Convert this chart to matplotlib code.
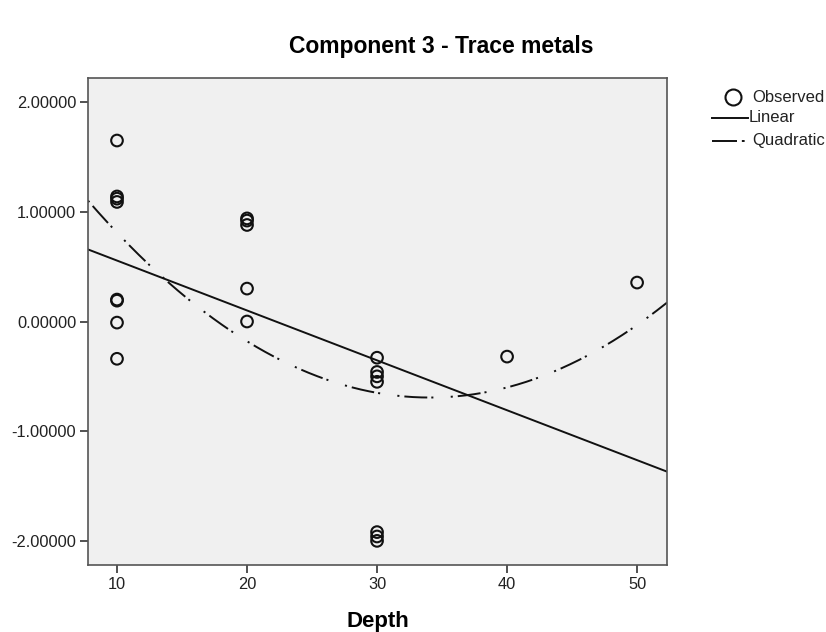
import numpy as np
import matplotlib
matplotlib.use("Agg")
import matplotlib.pyplot as plt
from matplotlib.lines import Line2D

plt.rcParams['font.family'] = ['Liberation Sans', 'DejaVu Sans']
plt.rcParams['lines.scale_dashes'] = False

depth = [10, 10, 10, 10, 10, 10, 10, 10,
         20, 20, 20, 20, 20,
         30, 30, 30, 30, 30, 30, 30,
         40, 50]
component3 = [1.65, 1.14, 1.12, 1.09, 0.20, 0.19, -0.01, -0.34,
              0.94, 0.92, 0.88, 0.30, 0.00,
              -0.33, -0.46, -0.50, -0.55, -1.92, -1.96, -2.00,
              -0.32, 0.355]
xticks = [10, 20, 30, 40, 50]
yticks = [-2, -1, 0, 1, 2]
legend_labels = ["Observed", "Linear", "Quadratic"]

x = np.array(depth, dtype=float)
y = np.array(component3, dtype=float)
lin = np.polyfit(x, y, 1)
quad = np.polyfit(x, y, 2)

# dash-dot pattern in points: dot, gap, dash, gap, dot, long gap
dd = (0, (1.5, 3.6, 16.5, 2.9, 1.5, 12.5))
W, H = 826, 632

fig = plt.figure(figsize=(W/100, H/100), dpi=100)
ax = fig.add_axes([88/W, 1-565/H, (667-88)/W, (565-78)/H])
ax.set_facecolor("#f0f0f0")
xmin, xmax = 7.77, 52.3
xs = np.linspace(xmin, xmax, 400)
ax.plot(xs, np.polyval(lin, xs), color="#111111", lw=1.4)
ax.plot(xs, np.polyval(quad, xs), color="#111111", lw=1.4, linestyle=dd)
ax.scatter(x, y, s=70, facecolors="none", edgecolors="#111111", linewidths=1.5, zorder=3)
ax.set_xlim(xmin, xmax)
ax.set_ylim(-2.22, 2.22)
ax.set_xticks(xticks)
ax.set_yticks(yticks)
ax.set_yticklabels([f"{v:.5f}" for v in yticks])
ax.tick_params(direction="out", length=6, width=1.2, labelsize=11.8, colors="#333333",
               labelcolor="#222222", pad=2.5)
for s in ax.spines.values():
    s.set_color("#555555")
    s.set_linewidth(1.2)
ax.set_xlabel("Depth", fontsize=16, fontweight="bold", labelpad=13.5)
fig.text(441/W, 1-47/H, "Component 3 - Trace metals", ha="center", va="center",
         fontsize=16.5, fontweight="bold")

# legend drawn in figure pixel coordinates
def fy(p):
    return 1 - p / H

rows = [97, 118, 141]
fig.add_artist(Line2D([733/W], [fy(rows[0])], marker="o", ls="none", mfc="none",
                      mec="#111111", ms=11.5, mew=1.5, transform=fig.transFigure))
fig.add_artist(Line2D([712/W, 748/W], [fy(rows[1])] * 2, color="#111111", lw=1.4,
                      transform=fig.transFigure))
fig.add_artist(Line2D([712/W, 745/W], [fy(rows[2])] * 2, color="#111111", lw=1.4,
                      linestyle=(0, (18, 3.5, 2, 8)), transform=fig.transFigure))
text_x = [752, 749, 752]
for lab, r, tx in zip(legend_labels, rows, text_x):
    fig.text(tx/W, fy(r), lab, ha="left", va="center", fontsize=12.0, color="#222222")

fig.savefig("out.png", dpi=100)
